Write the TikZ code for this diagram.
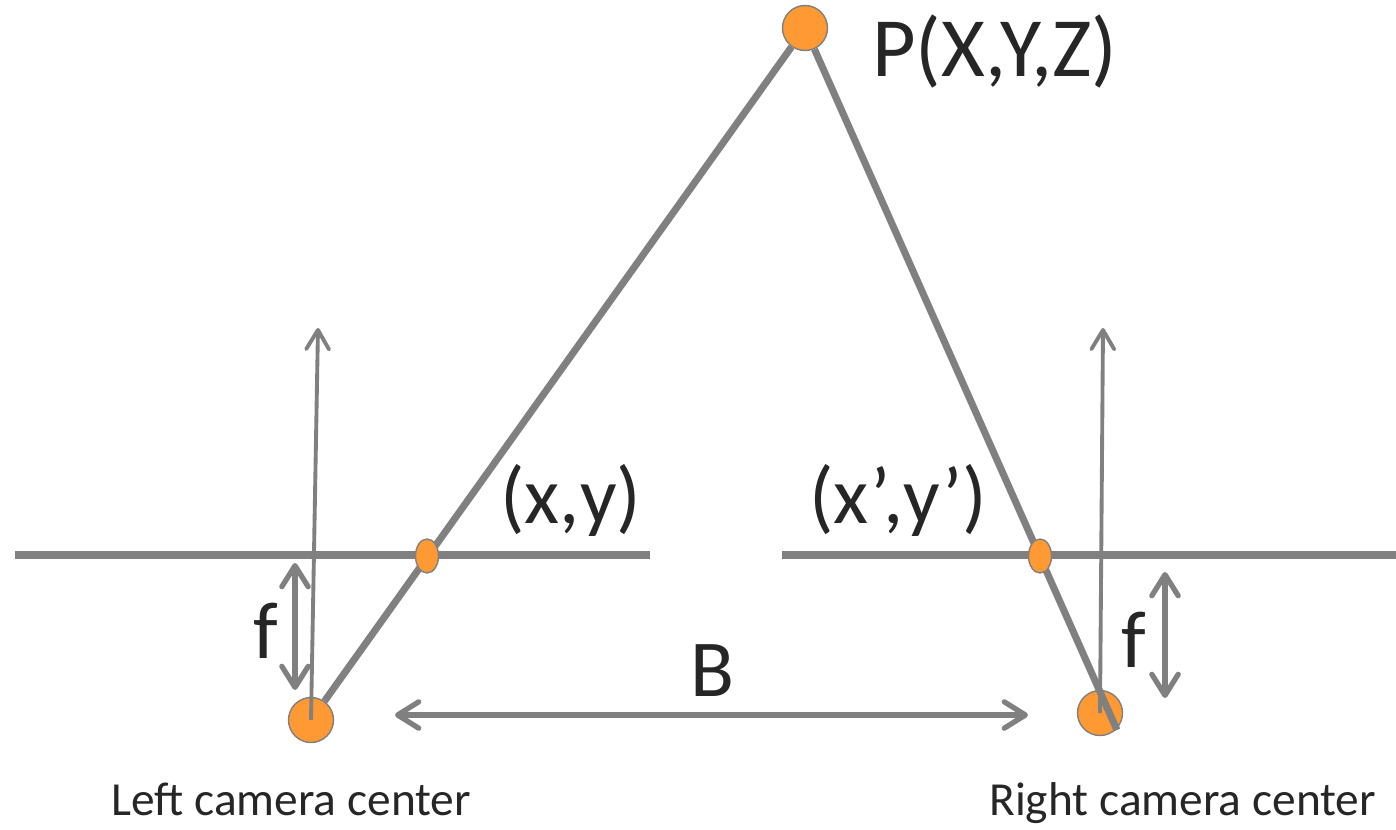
\documentclass[tikz,border=0pt]{standalone}
\usepackage{fontspec}
\setmainfont{Carlito}
\usetikzlibrary{arrows.meta,shapes.geometric,backgrounds}
\definecolor{raygray}{HTML}{808080}
\definecolor{ptorange}{HTML}{FF9933}
\definecolor{labelink}{HTML}{262626}

\begin{document}
\begin{tikzpicture}[x=.02cm,y=-.02cm,
  camdot/.style={circle,fill=ptorange,draw=raygray,line width=.8pt,minimum size=.9cm,inner sep=0pt},
  hitdot/.style={ellipse,fill=ptorange,draw=raygray,line width=.8pt,minimum width=.46cm,minimum height=.68cm,inner sep=0pt},
  ray/.style={raygray,line width=4pt},
  optaxis/.style={raygray,line width=2.2pt,-{Straight Barb[length=11pt,width=13pt,round]}},
  dimarrow/.style={raygray,line width=3pt,{Straight Barb[length=12pt,width=15pt,round]}-{Straight Barb[length=12pt,width=15pt,round]}},
  bigtext/.style={text=labelink,font=\fontsize{46}{52}\selectfont,inner sep=0pt},
  captext/.style={text=labelink,font=\fontsize{27}{32}\selectfont,inner sep=0pt}]
\useasboundingbox (0,0) rectangle (1396,829);
% points
\node[camdot] (P) at (805,28) {};
\node[hitdot] (lhit) at (427,556) {};
\node[hitdot] (rhit) at (1040,556) {};
\coordinate (lplaneA) at (15,555);  \coordinate (lplaneB) at (650,555);
\coordinate (rplaneA) at (782,555); \coordinate (rplaneB) at (1396,555);
\coordinate (laxis) at (318,328);   \coordinate (raxis) at (1103,328);
\coordinate (rend) at (1117,730);
\coordinate (lfA) at (295,563);  \coordinate (lfB) at (295,690);
\coordinate (rfA) at (1165,572); \coordinate (rfB) at (1165,698);
\coordinate (bA) at (395,715);   \coordinate (bB) at (1028,715);
\begin{pgfonlayer}{background}
\node[camdot] (lcam) at (311,720) {};
\node[camdot] (rcam) at (1100,713) {};
\draw[ray] (lplaneA) -- (lplaneB);
\draw[ray] (rplaneA) -- (rplaneB);
\draw[ray] (P) -- (lcam);
\draw[ray] (P) -- (rend);
\draw[optaxis] (lcam.center) -- (laxis);
\draw[optaxis] (rcam.center) -- (raxis);
\draw[dimarrow] (lfA) -- (lfB);
\draw[dimarrow] (rfA) -- (rfB);
\draw[dimarrow] (bA) -- (bB);
\end{pgfonlayer}
% labels
\node[bigtext,anchor=base west,font=\fontsize{48}{54}\selectfont] (Plab) at (872,76) {P(X,Y,Z)};
\node[bigtext,anchor=base west] (llab) at (500,523) {(x,y)};
\node[bigtext,anchor=base west] (rlab) at (809,523) {(x’,y’)};
\node[bigtext,anchor=base west] (lf) at (253,658) {f};
\node[bigtext,anchor=base west] (rf) at (1121,667) {f};
\node[bigtext,anchor=base west] (blab) at (690,696) {B};
\node[captext,anchor=base west] (lcamlab) at (111,815) {Left camera center};
\node[captext,anchor=base west] (rcamlab) at (989,815) {Right camera center};
\end{tikzpicture}
\end{document}
